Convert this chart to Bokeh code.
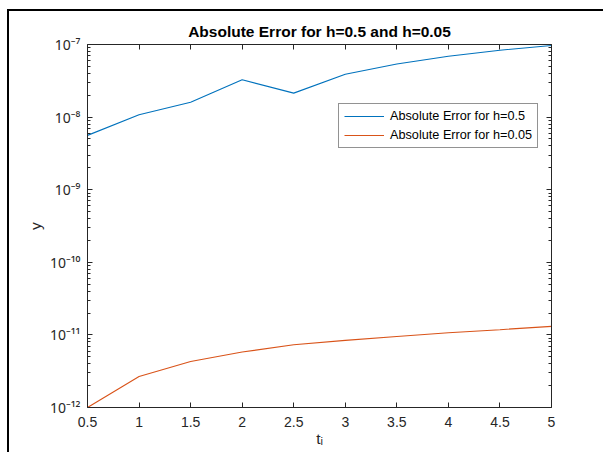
from bokeh.plotting import figure
from bokeh.models import LinearAxis, LogAxis, FixedTicker, Range1d
from bokeh.embed import file_html
from bokeh.resources import INLINE

# ---- data ----
t = [0.5, 1.0, 1.5, 2.0, 2.5, 3.0, 3.5, 4.0, 4.5, 5.0]
err_h05 = [5.6e-9, 1.08e-8, 1.6e-8, 3.26e-8, 2.14e-8, 3.9e-8, 5.4e-8, 6.9e-8, 8.35e-8, 9.7e-8]
err_h005 = [1.0e-12, 2.67e-12, 4.3e-12, 5.8e-12, 7.3e-12, 8.4e-12, 9.5e-12, 1.07e-11, 1.18e-11, 1.31e-11]

x_ticks = [0.5, 1.0, 1.5, 2.0, 2.5, 3.0, 3.5, 4.0, 4.5, 5.0]
x_tick_labels = ["0.5", "1", "1.5", "2", "2.5", "3", "3.5", "4", "4.5", "5"]
y_exponents = [-12, -11, -10, -9, -8, -7]
y_tick_labels = ["10⁻¹²", "10⁻¹¹", "10⁻¹⁰", "10⁻⁹", "10⁻⁸", "10⁻⁷"]

title_text = "Absolute Error for h=0.5 and h=0.05"
label_h05 = "Absolute Error for h=0.5"
label_h005 = "Absolute Error for h=0.05"
x_label = "tᵢ"
y_label = "y"

BLUE = "#0072BD"
ORANGE = "#D95319"
AX = "#262626"
FONT = "Liberation Sans"

y_ticks = [10.0 ** e for e in y_exponents]
y_minor = [m * 10.0 ** e for e in y_exponents[:-1] for m in range(2, 10)]

p = figure(frame_width=464, frame_height=363, y_axis_type="log",
           x_range=Range1d(0.5, 5.0), y_range=Range1d(1e-12, 1e-7),
           output_backend="svg", toolbar_location=None, title=title_text,
           min_border_left=78, min_border_right=52, min_border_top=33, min_border_bottom=45)
# page (table cell) border lines of the original document
p.styles = {"margin-left": "7px", "margin-top": "9px",
            "border-top": "2px solid #000", "border-left": "2px solid #000"}
p.background_fill_color = "white"
p.border_fill_color = "white"
p.outline_line_color = None
p.xgrid.visible = False
p.ygrid.visible = False

p.title.align = "center"
p.title.text_font = FONT
p.title.text_font_size = "15.5px"
p.title.text_font_style = "bold"
p.title.text_color = "#000000"
p.title.standoff = 9

p.line(t, err_h05, line_color=BLUE, line_width=1.1, legend_label=label_h05)
p.line(t, err_h005, line_color=ORANGE, line_width=1.1, legend_label=label_h005)

xt = FixedTicker(ticks=x_ticks)
yt = FixedTicker(ticks=y_ticks, minor_ticks=y_minor)
x_over = {x: s for x, s in zip(x_ticks, x_tick_labels)}
y_over = {y: s for y, s in zip(y_ticks, y_tick_labels)}


def style(ax, labels=True):
    ax.axis_line_color = AX
    ax.axis_line_width = 1
    ax.major_tick_line_color = AX
    ax.minor_tick_line_color = AX
    ax.major_tick_in = 5
    ax.major_tick_out = 0
    ax.minor_tick_in = 3
    ax.minor_tick_out = 0
    ax.major_label_text_font = FONT
    ax.major_label_text_font_size = "14px" if labels else "0px"
    ax.major_label_text_color = AX
    ax.axis_label_text_font = FONT
    ax.axis_label_text_font_size = "15.5px"
    ax.axis_label_text_font_style = "normal"
    ax.axis_label_text_color = AX


xa = p.xaxis[0]
xa.ticker = xt
xa.major_label_overrides = x_over
xa.axis_label = x_label
style(xa)
xa.major_label_standoff = 9
xa.axis_label_standoff = 0

ya = p.yaxis[0]
ya.ticker = yt
ya.major_label_overrides = y_over
ya.axis_label = y_label
style(ya)
ya.major_label_text_font = "Noto Sans"
ya.major_label_text_font_size = "14px"
ya.major_label_standoff = 7
ya.axis_label_standoff = 3

top = LinearAxis(ticker=FixedTicker(ticks=x_ticks), major_label_overrides={x: "" for x in x_ticks})
style(top, labels=False)
top.major_label_standoff = 0
p.add_layout(top, "above")

right = LogAxis(ticker=FixedTicker(ticks=y_ticks, minor_ticks=y_minor),
                major_label_overrides={y: "" for y in y_ticks})
style(right, labels=False)
right.major_label_standoff = 0
p.add_layout(right, "right")

lg = p.legend[0]
lg.location = (251, 259)
lg.label_text_font = FONT
lg.label_text_font_size = "12.7px"
lg.label_text_color = "#000000"
lg.glyph_width = 40
lg.glyph_height = 12
lg.label_height = 12
lg.label_standoff = 6
lg.spacing = 5
lg.padding = 5
lg.margin = 0
lg.border_line_color = AX
lg.border_line_width = 1
lg.background_fill_color = "white"
lg.background_fill_alpha = 1.0

open("out.html", "w").write(file_html(p, INLINE))
